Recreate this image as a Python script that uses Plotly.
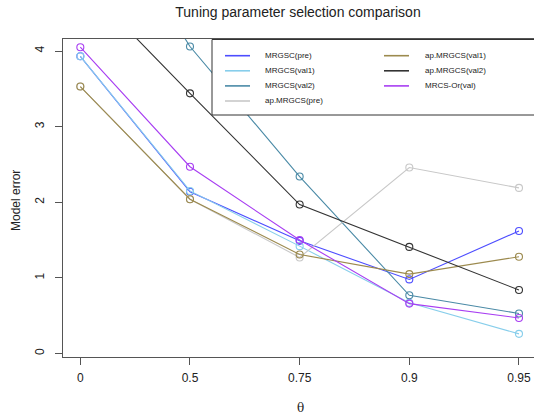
import plotly.graph_objects as go

# Tuning parameter values (categorical positions on the x axis)
theta_labels = ["0", "0.5", "0.75", "0.9", "0.95"]
theta_pos = [1, 2, 3, 4, 5]

# Model error per method
series_names = ["MRGSC(pre)", "MRGCS(val1)", "MRGCS(val2)", "ap.MRGCS(pre)",
                "ap.MRGCS(val1)", "ap.MRGCS(val2)", "MRCS-Or(val)"]
mrgsc_pre = [3.93, 2.14, 1.49, 0.98, 1.62]
mrgcs_val1 = [3.93, 2.15, 1.42, 0.67, 0.26]
mrgcs_val2 = [6.38, 4.06, 2.34, 0.77, 0.53]
ap_mrgcs_pre = [3.53, 2.04, 1.27, 2.46, 2.19]
ap_mrgcs_val1 = [3.53, 2.04, 1.31, 1.05, 1.28]
ap_mrgcs_val2 = [4.93, 3.44, 1.97, 1.41, 0.84]
mrcs_or_val = [4.05, 2.47, 1.50, 0.66, 0.47]

series_values = [mrgsc_pre, mrgcs_val1, mrgcs_val2, ap_mrgcs_pre,
                 ap_mrgcs_val1, ap_mrgcs_val2, mrcs_or_val]
series_colors = ["#4d4dff", "#87ceeb", "#4a8aa6", "#c8c8c8",
                 "#9c8a4e", "#333333", "#a83ef2"]

W, H = 534, 417
ML, MR, MT, MB = 63, 0, 39, 60
PW, PH = W - ML - MR, H - MT - MB


def px_x(p):
    return (p - ML) / PW


def px_y(p):
    return (H - MB - p) / PH


fig = go.Figure()
for name, vals, col in zip(series_names, series_values, series_colors):
    fig.add_trace(go.Scatter(
        x=theta_pos, y=vals, name=name, mode="lines+markers",
        line=dict(color=col, width=1.1),
        marker=dict(symbol="circle-open", size=7, color=col, line=dict(width=1.1, color=col)),
        showlegend=False,
    ))

shapes = []
annotations = []

# legend box (drawn over the data, as an opaque inset)
shapes.append(dict(type="rect", xref="paper", yref="paper", layer="above",
                   x0=px_x(212), x1=px_x(540), y0=px_y(115), y1=px_y(39.5),
                   fillcolor="white", line=dict(color="#333333", width=1)))

col_line_x = [(225, 250), (384, 409)]
col_text_x = [263, 423]
row_y = [55.7, 70.8, 85.9, 101.0]
for i, (name, col) in enumerate(zip(series_names, series_colors)):
    c = 0 if i < 4 else 1
    r = i if i < 4 else i - 4
    x0, x1 = col_line_x[c]
    shapes.append(dict(type="line", xref="paper", yref="paper", layer="above",
                       x0=px_x(x0), x1=px_x(x1), y0=px_y(row_y[r]), y1=px_y(row_y[r]),
                       line=dict(color=col, width=1.6)))
    annotations.append(dict(xref="paper", yref="paper", x=px_x(col_text_x[c]), y=px_y(row_y[r]),
                            text=name, showarrow=False, xanchor="left", yanchor="middle",
                            font=dict(size=8, color="#222222", family="Liberation Sans, Arial")))

# axis titles
annotations.append(dict(xref="paper", yref="paper", x=px_x(300), y=px_y(408), text="θ",
                        showarrow=False, xanchor="center", yanchor="middle",
                        font=dict(size=12, color="#222222", family="DejaVu Serif, Liberation Serif")))
annotations.append(dict(xref="paper", yref="paper", x=px_x(16), y=px_y(201), text="Model error",
                        showarrow=False, xanchor="center", yanchor="middle", textangle=-90,
                        font=dict(size=12, color="#222222", family="Liberation Sans, Arial")))

fig.update_layout(
    width=W, height=H,
    margin=dict(l=ML, r=MR, t=MT, b=MB),
    paper_bgcolor="white", plot_bgcolor="white",
    font=dict(family="Liberation Sans, Arial", size=12, color="#222222"),
    title=dict(text="Tuning parameter selection comparison", x=298 / W, xref="container",
               xanchor="center", y=1 - 12 / H, yref="container", yanchor="middle",
               font=dict(size=14, color="#222222")),
    xaxis=dict(range=[0.842, 5.137], tickmode="array", tickvals=theta_pos, ticktext=theta_labels,
               showgrid=False, zeroline=False, showline=True, mirror=True,
               linecolor="#555555", linewidth=1, ticks="outside", ticklen=7,
               tickcolor="#555555", ticklabelstandoff=3),
    yaxis=dict(range=[-0.046, 4.159], tickmode="array", tickvals=[0, 1, 2, 3, 4],
               showgrid=False, zeroline=False, showline=True, mirror=False,
               linecolor="#555555", linewidth=1, ticks="outside", ticklen=7,
               tickcolor="#555555", tickangle=-90, ticklabelstandoff=6),
    shapes=shapes,
    annotations=annotations,
)

fig.write_html("out.html")
